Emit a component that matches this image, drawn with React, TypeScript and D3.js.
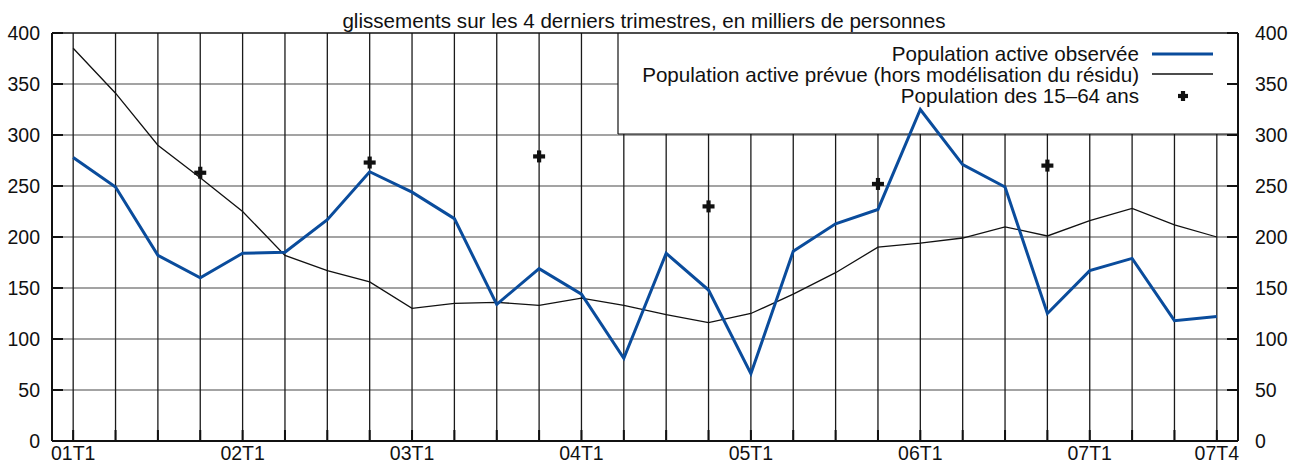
import React from "react";
import * as d3 from "d3";

const quarters: string[] = [
  "01T1","01T2","01T3","01T4","02T1","02T2","02T3","02T4",
  "03T1","03T2","03T3","03T4","04T1","04T2","04T3","04T4",
  "05T1","05T2","05T3","05T4","06T1","06T2","06T3","06T4",
  "07T1","07T2","07T3","07T4",
];
const observed: number[] = [
  278, 249, 182, 160, 184, 185, 217, 264, 244, 218, 134, 169, 144, 81,
  184, 148, 66, 186, 213, 227, 325, 271, 249, 125, 167, 179, 118, 122,
];
const forecast: number[] = [
  385, 341, 290, 258, 225, 182, 167, 156, 130, 135, 136, 133, 140, 133,
  124, 116, 125, 144, 165, 190, 194, 199, 210, 201, 216, 228, 212, 200,
];
const popQuarters: string[] = ["01T4", "02T4", "03T4", "04T4", "05T4", "06T4"];
const popValues: number[] = [263, 273, 279, 230, 252, 270];
const xLabels: string[] = ["01T1", "02T1", "03T1", "04T1", "05T1", "06T1", "07T1", "07T4"];
const yTicks: number[] = [0, 50, 100, 150, 200, 250, 300, 350, 400];
const title = "glissements sur les 4 derniers trimestres, en milliers de personnes";
const legendLabels: string[] = [
  "Population active observée",
  "Population active prévue (hors modélisation du résidu)",
  "Population des 15\u201364 ans",
];

const W = 1290, H = 465;
const L = 52, R = 1238, T = 33, B = 441;
const FONT = "'Liberation Sans', Arial, Helvetica, sans-serif";
const BLUE = "#0a4c9c";
const TXT = 20.6;

function Cross({ x, y, s = 6 }: { x: number; y: number; s?: number }) {
  return (
    <g stroke="#111" strokeWidth={4.2}>
      <line x1={x - s} x2={x + s} y1={y} y2={y} />
      <line x1={x} x2={x} y1={y - s} y2={y + s} />
    </g>
  );
}

export default function App() {
  const x = d3.scaleLinear().domain([-0.5, quarters.length - 0.5]).range([L, R]);
  const y = d3.scaleLinear().domain([0, 400]).range([B, T]);
  const idx = (q: string) => quarters.indexOf(q);

  const line = d3.line<number>().x((_, i) => x(i)).y((d) => y(d));

  const legX0 = 618, legY1 = 134;

  return (
    <svg width={W} height={H} style={{ position: "absolute", left: 0, top: 0, background: "#fff" }}>
      <text x={644} y={28} textAnchor="middle" fontFamily={FONT} fontSize={TXT} fill="#111">
        {title}
      </text>
      {/* horizontal grid */}
      {yTicks.filter((t) => t > 0 && t < 400).map((t) => (
        <line key={"h" + t} x1={L} x2={R} y1={y(t)} y2={y(t)} stroke="#858585" strokeWidth={1.4} />
      ))}
      {/* vertical grid */}
      {quarters.map((q, i) => (
        <line key={"v" + q} x1={x(i)} x2={x(i)} y1={T} y2={B} stroke="#1a1a1a" strokeWidth={1.3} />
      ))}
      {/* legend box */}
      <rect x={legX0} y={T} width={R - legX0} height={legY1 - T} fill="#fff" />
      <line x1={legX0} x2={legX0} y1={T} y2={legY1} stroke="#111" strokeWidth={1.2} />
      <line x1={legX0} x2={R} y1={legY1} y2={legY1} stroke="#111" strokeWidth={1.2} />
      {/* frame */}
      <line x1={L} x2={R} y1={T} y2={T} stroke="#111" strokeWidth={1.5} />
      <line x1={L} x2={L} y1={T} y2={B} stroke="#111" strokeWidth={2} />
      <line x1={R} x2={R} y1={T} y2={B} stroke="#111" strokeWidth={2} />
      <line x1={L} x2={R} y1={B} y2={B} stroke="#111" strokeWidth={2.2} />
      {/* y ticks */}
      {yTicks.map((t) => (
        <g key={"yt" + t}>
          <line x1={L} x2={L + 11} y1={y(t)} y2={y(t)} stroke="#111" strokeWidth={2} />
          <line x1={R - 11} x2={R} y1={y(t)} y2={y(t)} stroke="#111" strokeWidth={2} />
          <text x={40} y={y(t)} dy="0.35em" textAnchor="end" fontFamily={FONT} fontSize={19.5} fill="#111">{t}</text>
          <text x={1255} y={y(t)} dy="0.35em" textAnchor="start" fontFamily={FONT} fontSize={19.5} fill="#111">{t}</text>
        </g>
      ))}
      {/* x ticks */}
      {quarters.map((q, i) => (
        <line key={"xt" + q} x1={x(i)} x2={x(i)} y1={B} y2={B - 11} stroke="#111" strokeWidth={2} />
      ))}
      {xLabels.map((lab) => (
        <text key={"xl" + lab} x={x(idx(lab))} y={460} textAnchor="middle" fontFamily={FONT} fontSize={19.5} fill="#111">
          {lab}
        </text>
      ))}
      {/* series */}
      <path d={line(forecast) || ""} fill="none" stroke="#111" strokeWidth={1.3} />
      <path d={line(observed) || ""} fill="none" stroke={BLUE} strokeWidth={3} strokeLinejoin="miter" />
      {popQuarters.map((q, i) => (
        <Cross key={"c" + q} x={x(idx(q))} y={y(popValues[i])} />
      ))}
      {/* legend */}
      <text x={1139} y={54} dy="0.35em" textAnchor="end" fontFamily={FONT} fontSize={TXT} fill="#111">{legendLabels[0]}</text>
      <line x1={1152} x2={1213} y1={54} y2={54} stroke={BLUE} strokeWidth={3} />
      <text x={1139} y={75} dy="0.35em" textAnchor="end" fontFamily={FONT} fontSize={TXT} fill="#111">{legendLabels[1]}</text>
      <line x1={1152} x2={1213} y1={74} y2={74} stroke="#111" strokeWidth={1.3} />
      <text x={1139} y={96} dy="0.35em" textAnchor="end" fontFamily={FONT} fontSize={TXT} fill="#111">{legendLabels[2]}</text>
      <Cross x={1183} y={96} s={5} />
    </svg>
  );
}
